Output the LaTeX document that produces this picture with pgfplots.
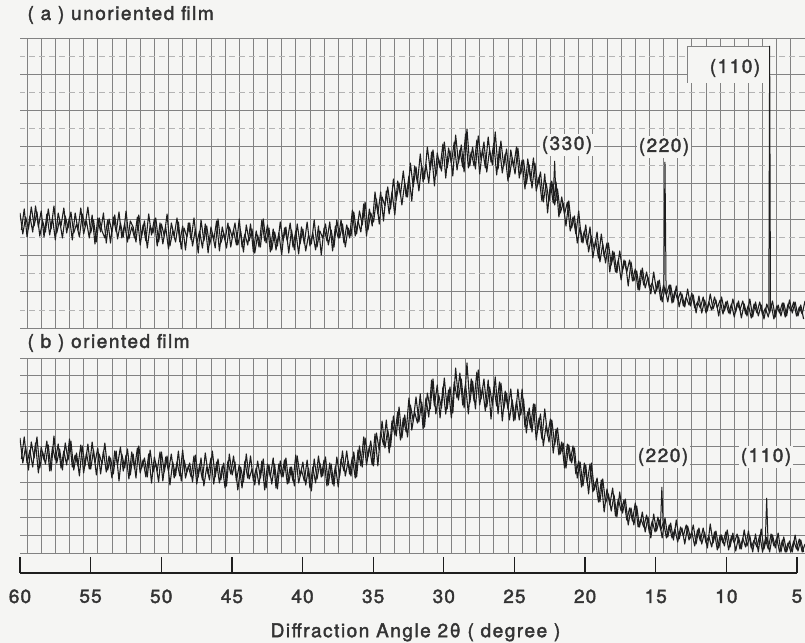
\documentclass[border=0pt]{standalone}
\usepackage{fontspec}
\setmainfont{TeX Gyre Heros}
\newfontfamily\chartfont[FakeBold=2, LetterSpace=8]{TeX Gyre Heros}
\newfontfamily\tickfam[FakeBold=2, LetterSpace=6]{TeX Gyre Heros}
\usepackage{pgfplots}
\usepackage{pgfplotstable}
\pgfplotsset{compat=1.18}

\definecolor{paper}{HTML}{F5F5F3}
\definecolor{gridc}{HTML}{828282}
\definecolor{ink}{HTML}{1E1E1E}
\definecolor{textc}{HTML}{333333}

% (a) unoriented film: recorder readings at the even tenths of 2theta (deg)
\pgfplotstableread[row sep=\\]{x y\\
60 115\\59.8 94\\59.6 111\\59.4 99\\59.2 121\\59 102\\58.8 116\\58.6 92\\58.4 107\\58.2 96\\
58 119\\57.8 99\\57.6 122\\57.4 95\\57.2 108\\57 90\\56.8 112\\56.6 100\\56.4 116\\56.2 95\\
56 104\\55.8 91\\55.6 114\\55.4 102\\55.2 121\\55 95\\54.8 108\\54.6 86\\54.4 110\\54.2 97\\
54 90\\53.8 108\\53.6 85\\53.4 111\\53.2 96\\53 116\\52.8 90\\52.6 104\\52.4 86\\52.2 107\\
52 101\\51.8 86\\51.6 113\\51.4 92\\51.2 107\\51 80\\50.8 102\\50.6 95\\50.4 110\\50.2 86\\
50 104\\49.8 92\\49.6 114\\49.4 82\\49.2 97\\49 86\\48.8 106\\48.6 79\\48.4 100\\48.2 91\\
48 105\\47.8 82\\47.6 99\\47.4 75\\47.2 108\\47 87\\46.8 102\\46.6 83\\46.4 95\\46.2 80\\
46 109\\45.8 85\\45.6 95\\45.4 80\\45.2 101\\45 91\\44.8 105\\44.6 83\\44.4 97\\44.2 76\\
44 103\\43.8 87\\43.6 99\\43.4 75\\43.2 93\\43 81\\42.8 109\\42.6 85\\42.4 100\\42.2 78\\
42 96\\41.8 82\\41.6 106\\41.4 87\\41.2 101\\41 75\\40.8 98\\40.6 78\\40.4 104\\40.2 84\\
40 99\\39.8 77\\39.6 93\\39.4 84\\39.2 108\\39 81\\38.8 97\\38.6 90\\38.4 104\\38.2 83\\
38 98\\37.8 81\\37.6 108\\37.4 90\\37.2 104\\37 81\\36.8 100\\36.6 92\\36.4 116\\36.2 94\\
36 117\\35.8 103\\35.6 126\\35.4 98\\35.2 115\\35 106\\34.8 129\\34.6 104\\34.4 131\\34.2 122\\
34 141\\33.8 119\\33.6 149\\33.4 128\\33.2 145\\33 123\\32.8 145\\32.6 131\\32.4 165\\32.2 141\\
32 161\\31.8 137\\31.6 162\\31.4 149\\31.2 181\\31 158\\30.8 178\\30.6 152\\30.4 169\\30.2 157\\
30 186\\29.8 160\\29.6 177\\29.4 152\\29.2 193\\29 165\\28.8 183\\28.6 156\\28.4 199\\28.2 162\\
28 181\\27.8 159\\27.6 192\\27.4 168\\27.2 186\\27 156\\26.8 178\\26.6 163\\26.4 196\\26.2 159\\
26 187\\25.8 162\\25.6 179\\25.4 151\\25.2 170\\25 154\\24.8 180\\24.6 154\\24.4 168\\24.2 144\\
24 163\\23.8 140\\23.6 165\\23.4 143\\23.2 156\\23 126\\22.8 145\\22.6 127\\22.4 147\\22.2 123\\
22 139\\21.8 115\\21.6 125\\21.4 102\\21.2 127\\21 100\\20.8 112\\20.6 85\\20.4 101\\20.2 85\\
20 103\\19.8 76\\19.6 92\\19.4 79\\19.2 96\\19 66\\18.8 84\\18.6 65\\18.4 85\\18.2 63\\
18 76\\17.8 55\\17.6 77\\17.4 58\\17.2 67\\17 42\\16.8 66\\16.6 47\\16.4 57\\16.2 38\\
16 60\\15.8 40\\15.6 51\\15.4 34\\15.2 56\\15 37\\14.8 48\\14.6 26\\14.4 40\\14.2 26\\
14 43\\13.8 26\\13.6 42\\13.4 21\\13.2 34\\13 21\\12.8 39\\12.6 22\\12.4 33\\12.2 15\\
12 32\\11.8 15\\11.6 28\\11.4 17\\11.2 34\\11 19\\10.8 28\\10.6 12\\10.4 31\\10.2 17\\
10 27\\9.8 14\\9.6 29\\9.4 16\\9.2 27\\9 10\\8.8 24\\8.6 12\\8.4 29\\8.2 11\\
8 26\\7.8 12\\7.6 23\\7.4 9\\7.2 24\\7 15\\6.8 27\\6.6 11\\6.4 23\\6.2 12\\
6 25\\5.8 12\\5.6 28\\5.4 15\\5.2 26\\5 12\\4.8 23\\4.6 9\\
}\traceA
% (a) readings at the odd tenths
\pgfplotstableread[row sep=\\]{x y\\
59.9 98\\59.7 119\\59.5 91\\59.3 112\\59.1 96\\58.9 122\\58.7 101\\58.5 117\\58.3 91\\58.1 114\\
57.9 93\\57.7 110\\57.5 88\\57.3 115\\57.1 102\\56.9 120\\56.7 95\\56.5 111\\56.3 88\\56.1 115\\
55.9 98\\55.7 120\\55.5 94\\55.3 107\\55.1 90\\54.9 113\\54.7 84\\54.5 110\\54.3 96\\54.1 115\\
53.9 85\\53.7 109\\53.5 96\\53.3 113\\53.1 89\\52.9 105\\52.7 91\\52.5 117\\52.3 89\\52.1 101\\
51.9 90\\51.7 111\\51.5 83\\51.3 103\\51.1 87\\50.9 114\\50.7 93\\50.5 109\\50.3 82\\50.1 105\\
49.9 84\\49.7 101\\49.5 79\\49.3 105\\49.1 92\\48.9 110\\48.7 86\\48.5 102\\48.3 78\\48.1 105\\
47.9 88\\47.7 110\\47.5 85\\47.3 97\\47.1 80\\46.9 104\\46.7 75\\46.5 101\\46.3 88\\46.1 107\\
45.9 77\\45.7 101\\45.5 88\\45.3 105\\45.1 81\\44.9 98\\44.7 83\\44.5 109\\44.3 81\\44.1 94\\
43.9 83\\43.7 104\\43.5 76\\43.3 97\\43.1 81\\42.9 108\\42.7 87\\42.5 103\\42.3 76\\42.1 99\\
41.9 78\\41.7 95\\41.5 73\\41.3 100\\41.1 87\\40.9 105\\40.7 81\\40.5 97\\40.3 74\\40.1 101\\
39.9 84\\39.7 106\\39.5 82\\39.3 95\\39.1 78\\38.9 102\\38.7 73\\38.5 100\\38.3 87\\38.1 106\\
37.9 77\\37.7 102\\37.5 90\\37.3 108\\37.1 85\\36.9 103\\36.7 90\\36.5 118\\36.3 92\\36.1 107\\
35.9 96\\35.7 124\\35.5 92\\35.3 119\\35.1 102\\34.9 136\\34.7 114\\34.5 136\\34.3 107\\34.1 137\\
33.9 114\\33.7 136\\33.5 113\\33.3 147\\33.1 133\\32.9 157\\32.7 131\\32.5 152\\32.3 127\\32.1 162\\
31.9 145\\31.7 174\\31.5 146\\31.3 164\\31.1 145\\30.9 176\\30.7 142\\30.5 175\\30.3 160\\30.1 184\\
29.9 150\\29.7 180\\29.5 165\\29.3 186\\29.1 158\\28.9 178\\28.7 161\\28.5 194\\28.3 160\\28.1 176\\
27.9 162\\27.7 188\\27.5 154\\27.3 179\\27.1 160\\26.9 191\\26.7 166\\26.5 185\\26.3 153\\26.1 181\\
25.9 155\\25.7 174\\25.5 147\\25.3 178\\25.1 161\\24.9 181\\24.7 150\\24.5 168\\24.3 139\\24.1 169\\
23.9 147\\23.7 170\\23.5 137\\23.3 151\\23.1 127\\22.9 154\\22.7 115\\22.5 145\\22.3 125\\22.1 146\\
21.9 111\\21.7 131\\21.5 114\\21.3 126\\21.1 97\\20.9 111\\20.7 94\\20.5 117\\20.3 86\\20.1 97\\
19.9 83\\19.7 101\\19.5 70\\19.3 88\\19.1 70\\18.9 94\\18.7 71\\18.5 85\\18.3 56\\18.1 77\\
17.9 56\\17.7 68\\17.5 48\\17.3 68\\17.1 56\\16.9 68\\16.7 47\\16.5 59\\16.3 38\\16.1 58\\
15.9 43\\15.7 56\\15.5 40\\15.3 45\\15.1 34\\14.9 47\\14.7 28\\14.5 43\\14.3 33\\14.1 43\\
13.9 25\\13.7 37\\13.5 28\\13.3 36\\13.1 22\\12.9 31\\12.7 23\\12.5 35\\12.3 20\\12.1 26\\
11.9 20\\11.7 31\\11.5 15\\11.3 26\\11.1 18\\10.9 31\\10.7 20\\10.5 28\\10.3 14\\10.1 26\\
9.9 15\\9.7 24\\9.5 11\\9.3 25\\9.1 18\\8.9 27\\8.7 14\\8.5 23\\8.3 10\\8.1 24\\
7.9 15\\7.7 26\\7.5 13\\7.3 20\\7.1 11\\6.9 24\\6.7 9\\6.5 22\\6.3 15\\6.1 25\\
5.9 11\\5.7 24\\5.5 17\\5.3 26\\5.1 12\\4.9 21\\4.7 14\\4.5 27\\
}\traceAodd

% (b) oriented film: even tenths
\pgfplotstableread[row sep=\\]{x y\\
60 119\\59.8 94\\59.6 110\\59.4 87\\59.2 115\\59 99\\58.8 120\\58.6 89\\58.4 105\\58.2 93\\
58 112\\57.8 86\\57.6 121\\57.4 94\\57.2 108\\57 87\\56.8 114\\56.6 97\\56.4 116\\56.2 87\\
56 104\\55.8 81\\55.6 111\\55.4 91\\55.2 113\\55 88\\54.8 107\\54.6 82\\54.4 103\\54.2 93\\
54 114\\53.8 87\\53.6 99\\53.4 83\\53.2 106\\53 76\\52.8 103\\52.6 89\\52.4 108\\52.2 82\\
52 103\\51.8 79\\51.6 111\\51.4 89\\51.2 99\\51 80\\50.8 107\\50.6 85\\50.4 94\\50.2 75\\
50 105\\49.8 85\\49.6 101\\49.4 72\\49.2 95\\49 81\\48.8 106\\48.6 76\\48.4 97\\48.2 85\\
48 94\\47.8 75\\47.6 102\\47.4 80\\47.2 99\\47 71\\46.8 90\\46.6 77\\46.4 106\\46.2 80\\
46 98\\45.8 77\\45.6 94\\45.4 71\\45.2 103\\45 82\\44.8 95\\44.6 67\\44.4 90\\44.2 75\\
44 103\\43.8 78\\43.6 88\\43.4 72\\43.2 96\\43 79\\42.8 98\\42.6 69\\42.4 92\\42.2 73\\
42 93\\41.8 68\\41.6 96\\41.4 80\\41.2 99\\41 74\\40.8 90\\40.6 71\\40.4 101\\40.2 81\\
40 95\\39.8 72\\39.6 89\\39.4 66\\39.2 98\\39 78\\38.8 94\\38.6 81\\38.4 100\\38.2 72\\
38 93\\37.8 71\\37.6 100\\37.4 81\\37.2 106\\37 81\\36.8 96\\36.6 81\\36.4 105\\36.2 80\\
36 111\\35.8 90\\35.6 119\\35.4 100\\35.2 116\\35 91\\34.8 124\\34.6 107\\34.4 136\\34.2 109\\
34 127\\33.8 110\\33.6 141\\33.4 121\\33.2 150\\33 119\\32.8 142\\32.6 120\\32.4 152\\32.2 136\\
32 160\\31.8 135\\31.6 155\\31.4 130\\31.2 164\\31 148\\30.8 178\\30.6 143\\30.4 162\\30.2 149\\
30 179\\29.8 148\\29.6 170\\29.4 144\\29.2 189\\29 157\\28.8 178\\28.6 149\\28.4 194\\28.2 154\\
28 176\\27.8 148\\27.6 187\\27.4 158\\27.2 178\\27 150\\26.8 170\\26.6 152\\26.4 180\\26.2 143\\
26 174\\25.8 148\\25.6 164\\25.4 137\\25.2 157\\25 137\\24.8 168\\24.6 142\\24.4 158\\24.2 124\\
24 149\\23.8 125\\23.6 153\\23.4 127\\23.2 143\\23 111\\22.8 132\\22.6 115\\22.4 137\\22.2 112\\
22 129\\21.8 103\\21.6 114\\21.4 89\\21.2 112\\21 94\\20.8 109\\20.6 79\\20.4 95\\20.2 71\\
20 92\\19.8 63\\19.6 94\\19.4 67\\19.2 79\\19 55\\18.8 78\\18.6 54\\18.4 63\\18.2 46\\
18 62\\17.8 40\\17.6 65\\17.4 44\\17.2 58\\17 32\\16.8 49\\16.6 32\\16.4 51\\16.2 30\\
16 45\\15.8 25\\15.6 40\\15.4 19\\15.2 43\\15 26\\14.8 37\\14.6 19\\14.4 39\\14.2 20\\
14 34\\13.8 17\\13.6 37\\13.4 18\\13.2 29\\13 13\\12.8 31\\12.6 19\\12.4 32\\12.2 13\\
12 29\\11.8 13\\11.6 25\\11.4 9\\11.2 33\\11 14\\10.8 26\\10.6 9\\10.4 22\\10.2 11\\
10 27\\9.8 10\\9.6 24\\9.4 6\\9.2 20\\9 8\\8.8 27\\8.6 11\\8.4 21\\8.2 5\\
8 23\\7.8 5\\7.6 28\\7.4 8\\7.2 20\\7 5\\6.8 22\\6.6 9\\6.4 24\\6.2 5\\
6 20\\5.8 5\\5.6 16\\5.4 5\\5.2 22\\5 6\\4.8 17\\4.6 5\\
}\traceB
% (b) odd tenths
\pgfplotstableread[row sep=\\]{x y\\
59.9 98\\59.7 120\\59.5 94\\59.3 107\\59.1 90\\58.9 114\\58.7 84\\58.5 110\\58.3 97\\58.1 116\\
57.9 86\\57.7 110\\57.5 97\\57.3 113\\57.1 89\\56.9 106\\56.7 92\\56.5 118\\56.3 90\\56.1 102\\
55.9 91\\55.7 112\\55.5 84\\55.3 104\\55.1 88\\54.9 115\\54.7 94\\54.5 109\\54.3 83\\54.1 106\\
53.9 85\\53.7 101\\53.5 79\\53.3 106\\53.1 92\\52.9 110\\52.7 86\\52.5 102\\52.3 78\\52.1 105\\
51.9 88\\51.7 109\\51.5 84\\51.3 97\\51.1 80\\50.9 103\\50.7 74\\50.5 100\\50.3 86\\50.1 105\\
49.9 76\\49.7 100\\49.5 86\\49.3 103\\49.1 79\\48.9 95\\48.7 81\\48.5 107\\48.3 79\\48.1 91\\
47.9 80\\47.7 101\\47.5 73\\47.3 93\\47.1 77\\46.9 104\\46.7 83\\46.5 99\\46.3 73\\46.1 95\\
45.9 74\\45.7 91\\45.5 69\\45.3 96\\45.1 83\\44.9 101\\44.7 76\\44.5 92\\44.3 69\\44.1 96\\
43.9 79\\43.7 101\\43.5 76\\43.3 89\\43.1 72\\42.9 96\\42.7 67\\42.5 93\\42.3 80\\42.1 99\\
41.9 69\\41.7 93\\41.5 80\\41.3 97\\41.1 73\\40.9 90\\40.7 76\\40.5 102\\40.3 74\\40.1 87\\
39.9 76\\39.7 97\\39.5 69\\39.3 90\\39.1 74\\38.9 101\\38.7 80\\38.5 97\\38.3 71\\38.1 94\\
37.9 73\\37.7 91\\37.5 70\\37.3 98\\37.1 86\\36.9 106\\36.7 83\\36.5 100\\36.3 79\\36.1 107\\
35.9 91\\35.7 120\\35.5 92\\35.3 111\\35.1 92\\34.9 123\\34.7 91\\34.5 125\\34.3 112\\34.1 137\\
33.9 104\\33.7 136\\33.5 122\\33.3 145\\33.1 117\\32.9 139\\32.7 125\\32.5 159\\32.3 127\\32.1 145\\
31.9 134\\31.7 163\\31.5 128\\31.3 159\\31.1 140\\30.9 177\\30.7 151\\30.5 172\\30.3 139\\30.1 170\\
29.9 143\\29.7 167\\29.5 139\\29.3 175\\29.1 159\\28.9 184\\28.7 152\\28.5 173\\28.3 143\\28.1 178\\
27.9 156\\27.7 185\\27.5 152\\27.3 169\\27.1 146\\26.9 177\\26.7 138\\26.5 170\\26.3 151\\26.1 175\\
25.9 136\\25.7 166\\25.5 148\\25.3 168\\25.1 136\\24.9 156\\24.7 137\\24.5 168\\24.3 130\\24.1 145\\
23.9 129\\23.7 153\\23.5 117\\23.3 139\\23.1 118\\22.9 148\\22.7 121\\22.5 138\\22.3 104\\22.1 128\\
21.9 102\\21.7 115\\21.5 89\\21.3 113\\21.1 96\\20.9 111\\20.7 83\\20.5 96\\20.3 70\\20.1 94\\
19.9 74\\19.7 93\\19.5 65\\19.3 75\\19.1 55\\18.9 77\\18.7 45\\18.5 68\\18.3 52\\18.1 69\\
17.9 41\\17.7 58\\17.5 46\\17.3 57\\17.1 37\\16.9 49\\16.7 36\\16.5 54\\16.3 30\\16.1 38\\
15.9 30\\15.7 42\\15.5 24\\15.3 36\\15.1 25\\14.9 40\\14.7 27\\14.5 35\\14.3 19\\14.1 32\\
13.9 19\\13.7 28\\13.5 15\\13.3 30\\13.1 21\\12.9 32\\12.7 17\\12.5 25\\12.3 11\\12.1 27\\
11.9 16\\11.7 29\\11.5 14\\11.3 21\\11.1 10\\10.9 25\\10.7 7\\10.5 22\\10.3 14\\10.1 25\\
9.9 7\\9.7 21\\9.5 14\\9.3 23\\9.1 8\\8.9 19\\8.7 10\\8.5 26\\8.3 9\\8.1 17\\
7.9 10\\7.7 22\\7.5 5\\7.3 18\\7.1 8\\6.9 23\\6.7 11\\6.5 19\\6.3 5\\6.1 17\\
5.9 5\\5.7 14\\5.5 5\\5.3 16\\5.1 8\\4.9 18\\4.7 5\\4.5 13\\
}\traceBodd

\pgfplotsset{
  chartpaper/.style={
    scale only axis, anchor=south west,
    x dir=reverse, xmin=4.5, xmax=60,
    xtick={5.5,6.5,...,59.5}, xticklabels={}, yticklabels={},
    major tick length=0pt, minor tick length=0pt,
    grid=both,
    major grid style={gridc, line width=0.75bp},
    minor grid style={gridc!60, line width=0.5bp, dash pattern=on 6bp off 4bp},
    axis line style={draw=none},
  },
  scan/.style={ink, line width=1.1bp, line join=round, no marks},
  reflex/.style={ink, line width=1.0bp, line join=miter, no marks},
}
\newcommand\labfont{\chartfont\fontsize{19bp}{22bp}\selectfont}
\newcommand\tickfont{\tickfam\fontsize{19bp}{22bp}\selectfont}

\begin{document}
\begin{tikzpicture}[x=1bp,y=1bp]
\fill[paper] (0,0) rectangle (805,643);
\path[use as bounding box] (0,0) rectangle (805,643);

% ---- (a) unoriented film
\begin{axis}[chartpaper, at={(20bp,315bp)}, width=785bp, height=290bp,
  ymin=0, ymax=290,
  ytick={0,36.25,...,290}, minor ytick={18.125,54.375,...,272}]
  \fill[paper] (axis cs:12.84,245) rectangle (axis cs:6.97,282);
  \draw[gridc, line width=0.75bp] (axis cs:12.84,245) |- (axis cs:6.97,282);
  \addplot[scan] table {\traceA};
  \addplot[scan] table {\traceAodd};
  \addplot[reflex] coordinates {(22.3,131) (22.2,167) (22.1,127)};
  \addplot[reflex] coordinates {(14.48,36) (14.4,166) (14.32,34)};
  \addplot[reflex] coordinates {(7.06,18) (7.0,282) (6.94,19)};
\end{axis}

% ---- (b) oriented film
\begin{axis}[chartpaper, at={(20bp,90bp)}, width=785bp, height=195bp,
  ymin=4, ymax=199,
  ytick={4,21.727,...,199}]
  \addplot[scan] table {\traceB};
  \addplot[scan] table {\traceBodd};
  \addplot[reflex] coordinates {(14.72,30) (14.62,70) (14.52,28)};
  \addplot[reflex] coordinates {(7.31,15) (7.21,59) (7.11,13)};
\end{axis}

% ---- common 2theta scale
\begin{axis}[scale only axis, anchor=south west, at={(20bp,70bp)},
  width=777bp, height=10bp,
  x dir=reverse, xmin=5, xmax=60, ymin=0, ymax=1,
  hide y axis, axis x line*=bottom,
  axis line style={ink, line width=1.2bp, -},
  xtick={5,10,...,60}, tick align=inside, major tick length=16bp,
  tick style={ink, line width=1.2bp},
  /pgf/number format/assume math mode=true,
  xticklabel style={font=\tickfont, text=textc, yshift=-13bp},
  xlabel={Diffraction Angle 2θ ( degree )},
  xlabel style={font=\labfont, text=textc, yshift=-13bp, xshift=7bp}]
\end{axis}

\node[anchor=west, font=\labfont, text=textc] at (24,628) {( a ) unoriented film};
\node[anchor=west, font=\labfont, text=textc] at (24,300) {( b ) oriented film};
\node[font=\labfont, text=textc, fill=paper, inner sep=2bp] at (567,498) {(330)};
\node[font=\labfont, text=textc, fill=paper, inner sep=2bp] at (664,496) {(220)};
\node[font=\labfont, text=textc, fill=paper, inner sep=2bp] at (735,575) {(110)};
\node[font=\labfont, text=textc, fill=paper, inner sep=2bp] at (663,186) {(220)};
\node[font=\labfont, text=textc, fill=paper, inner sep=2bp] at (766,186) {(110)};
\end{tikzpicture}
\end{document}
